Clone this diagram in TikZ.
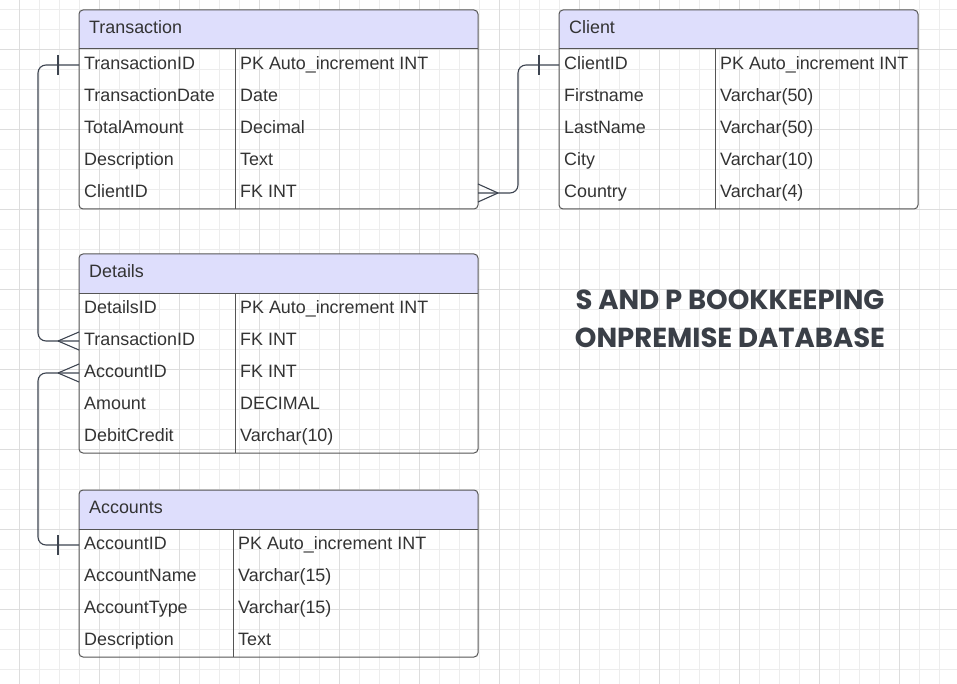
\documentclass[tikz,border=0pt]{standalone}
\usepackage{fontspec}
\setmainfont{Liberation Sans}
\newfontfamily\titlefont{Poppins}
\definecolor{hdrfill}{HTML}{DEDEFC}
\definecolor{tline}{HTML}{555555}
\definecolor{txt}{HTML}{333333}
\definecolor{gminor}{HTML}{EDEDED}
\definecolor{gmajor}{HTML}{DDDDDD}
\definecolor{conncol}{HTML}{3D4450}
\definecolor{titlecol}{HTML}{3A3F47}
\tikzset{
  tblline/.style={draw=tline, line width=1pt},
  celltext/.style={anchor=base west, inner sep=0pt, text=txt, font=\fontsize{17.9}{20}\selectfont},
  hdrtext/.style={anchor=base west, inner sep=0pt, text=txt, font=\fontsize{17.9}{20}\selectfont},
  conn/.style={draw=conncol, line width=1.1pt},
  titletext/.style={align=center, text=titlecol, font=\titlefont\bfseries\fontsize{27.5}{38}\selectfont},
}
\newcommand\ertable[8]{%
  \pgfmathsetmacro\yh{#3+39}%
  \pgfmathsetmacro\yb{#3+39+32*#6}%
  \begin{scope}
    \clip[rounded corners=4] (#2,#3) rectangle (#4,\yb);
    \fill[hdrfill] (#2,#3) rectangle (#4,\yh);
  \end{scope}
  \draw[tblline, rounded corners=4] (#2,#3) rectangle (#4,\yb);
  \draw[tblline] (#2,\yh) -- (#4,\yh);
  \draw[tblline] (#5,\yh) -- (#5,\yb);
  \node[hdrtext] (#1-title) at (#2+10,#3+23.8) {#7};
  \foreach \a/\b [count=\i] in {#8} {
    \pgfmathsetmacro\yc{\yh+32*\i-16}
    \node[celltext] (#1-\i-a) at (#2+5,\yc+4.8) {\a};
    \node[celltext] (#1-\i-b) at (#5+5,\yc+4.8) {\b};
    \coordinate (#1-\i-L) at (#2,\yc);
    \coordinate (#1-\i-R) at (#4,\yc);
  }
}
\begin{document}
\begin{tikzpicture}[x=1pt,y=-1pt]
\useasboundingbox (0,0) rectangle (957,684);
\fill[white] (0,0) rectangle (957,684);
% grid
\foreach \x in {19,39,...,957} \draw[gminor, line width=0.8pt] (\x,0) -- (\x,684);
\foreach \y in {9,29,...,684} \draw[gminor, line width=0.8pt] (0,\y) -- (957,\y);
\foreach \x in {19,99,...,957} \draw[gmajor, line width=0.8pt] (\x,0) -- (\x,684);
\foreach \y in {49,129,...,684} \draw[gmajor, line width=0.8pt] (0,\y) -- (957,\y);

\ertable{T}{79}{10}{478}{235}{5}{Transaction}{TransactionID/PK Auto\_increment INT, TransactionDate/Date, TotalAmount/Decimal, Description/Text, ClientID/FK INT}
\ertable{C}{559}{10}{918}{715}{5}{Client}{ClientID/PK Auto\_increment INT, Firstname/Varchar(50), LastName/Varchar(50), City/Varchar(10), Country/Varchar(4)}
\ertable{D}{79}{254}{478}{235}{5}{Details}{DetailsID/PK Auto\_increment INT, TransactionID/FK INT, AccountID/FK INT, Amount/DECIMAL, DebitCredit/Varchar(10)}
\ertable{A}{79}{490}{478}{233}{4}{Accounts}{AccountID/PK Auto\_increment INT, AccountName/Varchar(15), AccountType/Varchar(15), Description/Text}

% Transaction.TransactionID -> Details.TransactionID
\draw[conn, rounded corners=8] (T-1-L) -- ++(-41,0) |- (D-2-L);
\draw[conn] ([shift={(-21,-10)}]T-1-L) -- ([shift={(-21,10)}]T-1-L);
\draw[conn] ([xshift=-21]D-2-L) -- ([yshift=-9]D-2-L);
\draw[conn] ([xshift=-21]D-2-L) -- ([yshift=9]D-2-L);

% Accounts.AccountID -> Details.AccountID
\draw[conn, rounded corners=8] (A-1-L) -- ++(-41,0) |- (D-3-L);
\draw[conn] ([shift={(-21,-10)}]A-1-L) -- ([shift={(-21,10)}]A-1-L);
\draw[conn] ([xshift=-21]D-3-L) -- ([yshift=-9]D-3-L);
\draw[conn] ([xshift=-21]D-3-L) -- ([yshift=9]D-3-L);

% Client.ClientID -> Transaction.ClientID
\draw[conn, rounded corners=8] (T-5-R) -- ++(40,0) |- (C-1-L);
\draw[conn] ([shift={(-20,-10)}]C-1-L) -- ([shift={(-20,10)}]C-1-L);
\draw[conn] ([xshift=20]T-5-R) -- ([yshift=-9]T-5-R);
\draw[conn] ([xshift=20]T-5-R) -- ([yshift=9]T-5-R);

\node[titletext] (title) at (730,319) {S AND P BOOKKEEPING\\ONPREMISE DATABASE};
\end{tikzpicture}
\end{document}
